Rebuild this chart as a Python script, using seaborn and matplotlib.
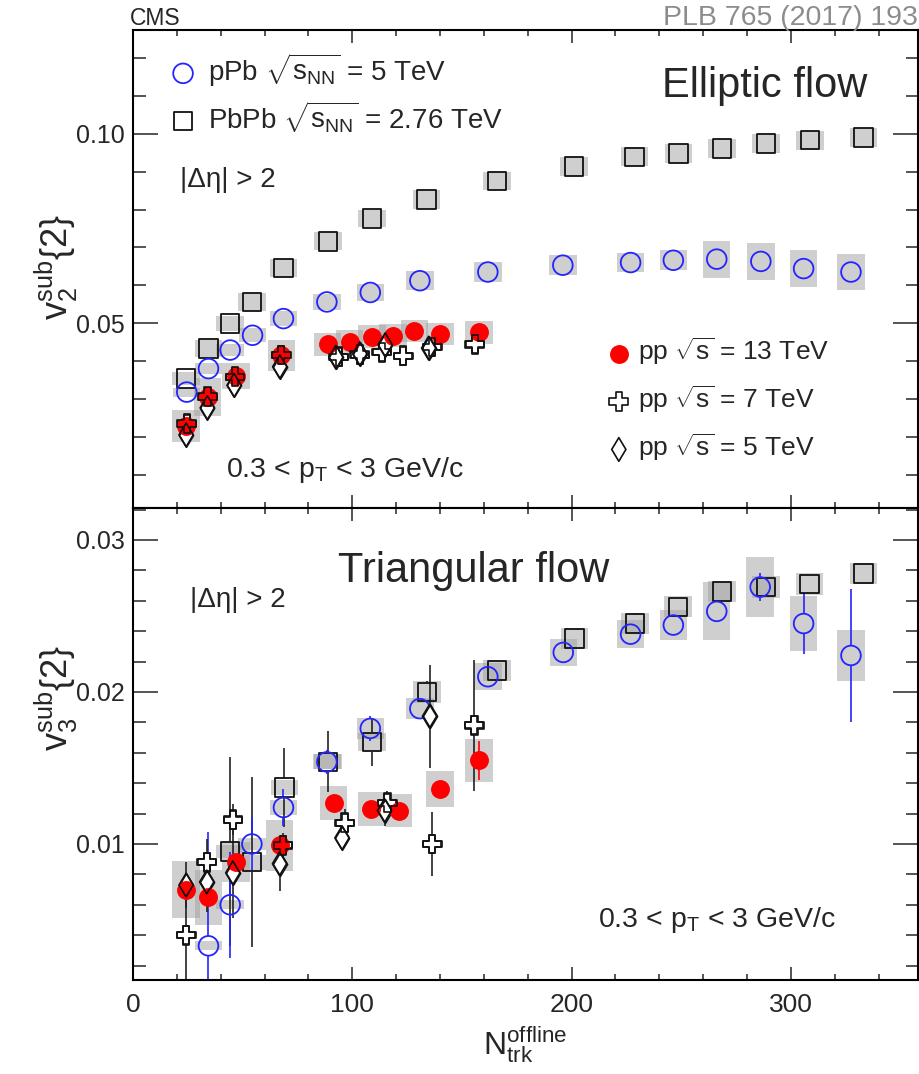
import numpy as np
import matplotlib
matplotlib.use("Agg")
import matplotlib.pyplot as plt
import seaborn as sns
from matplotlib.ticker import MultipleLocator, FixedLocator, FormatStrFormatter

# ---------------- elliptic flow, v2sub{2} ----------------
ppb_x_v2 = [24.5, 34.4, 44.3, 54.5, 68.6, 88.4, 108.2, 130.8, 161.8, 196.0, 226.9, 246.4, 266.2, 286.3, 305.8, 327.4]
ppb_v2 = [0.0318, 0.0380, 0.0429, 0.0468, 0.0512, 0.0556, 0.0581, 0.0612, 0.0635, 0.0653, 0.0660, 0.0666, 0.0669, 0.0663, 0.0644, 0.0635]
ppb_v2_sys = [0.0012, 0.0014, 0.0016, 0.0018, 0.0020, 0.0022, 0.0023, 0.0025, 0.0026, 0.0026, 0.0026, 0.0026, 0.0049, 0.0049, 0.0048, 0.0048]

pbpb_x_v2 = [24.2, 34.4, 44.3, 54.2, 68.6, 88.9, 109.0, 133.8, 166.0, 201.1, 228.8, 248.7, 268.5, 288.6, 308.7, 333.2]
pbpb_v2 = [0.0354, 0.0433, 0.0499, 0.0556, 0.0646, 0.0716, 0.0776, 0.0826, 0.0875, 0.0913, 0.0939, 0.0948, 0.0961, 0.0974, 0.0983, 0.0990]
pbpb_v2_sys = [0.0016, 0.0022, 0.0020, 0.0023, 0.0024, 0.0024, 0.0023, 0.0025, 0.0024, 0.0025, 0.0025, 0.0025, 0.0025, 0.0025, 0.0025, 0.0025]

pp13_x_v2 = [24.2, 34.0, 47.0, 67.6, 88.7, 98.8, 109.0, 118.6, 128.3, 139.9, 157.7]
pp13_v2 = [0.0229, 0.0306, 0.0360, 0.0415, 0.0444, 0.0451, 0.0464, 0.0467, 0.0479, 0.0471, 0.0476]
pp13_v2_sys = [0.0042, 0.0050, 0.0035, 0.0041, 0.0030, 0.0030, 0.0030, 0.0030, 0.0030, 0.0030, 0.0030]

pp7_x_v2 = [24.5, 34.0, 46.5, 67.6, 93.8, 103.4, 113.5, 123.2, 136.4, 155.8]
pp7_v2 = [0.0235, 0.0306, 0.0358, 0.0416, 0.0411, 0.0417, 0.0423, 0.0414, 0.0437, 0.0444]

pp5_x_v2 = [24.2, 33.9, 46.1, 66.9, 92.5, 103.4, 115.0, 134.8]
pp5_v2 = [0.0205, 0.0277, 0.0336, 0.0385, 0.0410, 0.0419, 0.0443, 0.0434]

# ---------------- triangular flow, v3sub{2} ----------------
ppb_x_v3 = [34.4, 44.3, 54.2, 68.6, 88.4, 108.2, 130.8, 161.8, 196.2, 226.9, 246.4, 266.2, 286.0, 305.8, 327.4]
ppb_v3 = [0.0033, 0.0060, 0.0100, 0.0124, 0.0154, 0.0176, 0.0189, 0.0210, 0.0226, 0.0238, 0.0244, 0.0253, 0.0269, 0.0245, 0.0224]
ppb_v3_stat = [0.0075, 0.0035, 0.0018, 0.0012, 0.0008, 0.0008, 0.0003, 0.0003, 0.0002, 0.0002, 0.0002, 0.0003, 0.0009, 0.0020, 0.0044]
ppb_v3_sys = [0.0003, 0.0003, 0.0004, 0.0005, 0.0005, 0.0007, 0.0007, 0.0009, 0.0009, 0.0009, 0.0010, 0.0019, 0.0020, 0.0018, 0.0017]

pbpb_x_v3 = [44.3, 54.2, 69.0, 89.0, 109.0, 134.0, 166.0, 201.4, 228.9, 248.5, 268.5, 288.6, 308.4, 333.2]
pbpb_v3 = [0.0095, 0.0088, 0.0137, 0.0154, 0.0167, 0.0200, 0.0214, 0.0235, 0.0245, 0.0256, 0.0266, 0.0269, 0.0271, 0.0278]
pbpb_v3_stat = [0.0062, 0.0056, 0.0026, 0.0020, 0.0016, 0.0007, 0.0005, 0.0002, 0.0007, 0.0002, 0.0002, 0.0002, 0.0002, 0.0002]
pbpb_v3_sys = [0.0004, 0.0005, 0.0005, 0.0005, 0.0006, 0.0007, 0.0007, 0.0007, 0.0007, 0.0007, 0.0007, 0.0007, 0.0007, 0.0007]

pp13_x_v3 = [24.2, 34.4, 47.0, 66.8, 91.5, 108.7, 121.1, 139.9, 157.7]
pp13_v3 = [0.0070, 0.0065, 0.0088, 0.0099, 0.0127, 0.0123, 0.0122, 0.0136, 0.0155]
pp13_v3_stat = [0.0003, 0.0003, 0.0003, 0.0003, 0.0003, 0.0003, 0.0003, 0.0004, 0.0013]
pp13_v3_sys = [0.0019, 0.0018, 0.0013, 0.0017, 0.0011, 0.0011, 0.0011, 0.0012, 0.0014]

pp7_x_v3 = [24.2, 33.6, 45.6, 68.4, 96.5, 116.0, 136.4, 155.7]
pp7_v3 = [0.0040, 0.0088, 0.0116, 0.0099, 0.0114, 0.0127, 0.0100, 0.0178]
pp7_v3_stat = [0.0040, 0.0015, 0.0010, 0.0008, 0.0009, 0.0008, 0.0021, 0.0043]

pp5_x_v3 = [24.2, 33.6, 45.5, 66.8, 95.3, 114.7, 135.2]
pp5_v3 = [0.0073, 0.0075, 0.0081, 0.0087, 0.0104, 0.0122, 0.0184]
pp5_v3_stat = [0.0015, 0.0020, 0.0030, 0.0018, 0.0008, 0.0010, 0.0034]

# ---------------- style ----------------
sns.set_style("ticks")
plt.rcParams['font.family'] = ['Liberation Sans', 'DejaVu Sans']
plt.rcParams['mathtext.fontset'] = 'custom'
plt.rcParams['mathtext.rm'] = 'Liberation Sans'
plt.rcParams['mathtext.it'] = 'Liberation Sans'
plt.rcParams['mathtext.sf'] = 'Liberation Sans'
plt.rcParams['mathtext.bf'] = 'Liberation Sans:bold'
plt.rcParams['axes.linewidth'] = 1.5
plt.rcParams['axes.edgecolor'] = 'black'

BLUE = '#2424ff'
RED = '#ff0000'
BOX = '#a0a0a0'
EDGE = '#111111'
BAR = '#222222'

FIG_W, FIG_H, DPI = 9.2, 10.74, 100
fig = plt.figure(figsize=(FIG_W, FIG_H), dpi=DPI)
ax1 = fig.add_axes([0.1446, 0.527, 0.8533, 0.4451])
ax2 = fig.add_axes([0.1446, 0.0875, 0.8533, 0.4395])

ax1.set_xlim(0, 358)
ax2.set_xlim(0, 358)
ax1.set_ylim(0.0012, 0.1274)
ax2.set_ylim(0.00105, 0.0321)


def px_to_data(ax, px):
    """Vertical pixel distance expressed in data units of ax."""
    h_px = ax.get_position().height * FIG_H * DPI
    lo, hi = ax.get_ylim()
    return px * (hi - lo) / h_px


def sys_boxes(ax, x, y, sys, width=12.5):
    y = np.asarray(y)
    sys = np.asarray(sys)
    ax.bar(x, 2 * sys, width=width, bottom=y - sys, color=BOX, alpha=0.5,
           linewidth=0, zorder=1)


def stat_bars(ax, x, y, err, color, gap_px):
    # vertical bars that stop at the marker outline
    x = np.asarray(x)
    y = np.asarray(y)
    err = np.asarray(err)
    gap = px_to_data(ax, gap_px)
    m = err > gap
    ax.vlines(x[m], y[m] + gap, y[m] + err[m], colors=color, linewidth=1.2, zorder=2)
    ax.vlines(x[m], y[m] - err[m], y[m] - gap, colors=color, linewidth=1.2, zorder=2)


def markers(ax, x, y, marker, s, fc, ec, lw, z):
    sns.scatterplot(x=x, y=y, marker=marker, s=s, color=ec, facecolor=fc,
                    edgecolor=ec, linewidth=lw, zorder=z, ax=ax)
    return ax.collections[-1]


S_CIRC, S_SQ, S_RED, S_CROSS, S_DIA = 200, 178, 185, 185, 145


def draw_panel(ax, d):
    # systematic boxes
    sys_boxes(ax, d['pbpb_x'], d['pbpb_y'], d['pbpb_sys'])
    sys_boxes(ax, d['ppb_x'], d['ppb_y'], d['ppb_sys'])
    sys_boxes(ax, d['pp13_x'], d['pp13_y'], d['pp13_sys'])
    # statistical bars
    if d.get('pbpb_stat') is not None:
        stat_bars(ax, d['pbpb_x'], d['pbpb_y'], d['pbpb_stat'], BAR, 10)
        stat_bars(ax, d['ppb_x'], d['ppb_y'], d['ppb_stat'], BLUE, 10)
        stat_bars(ax, d['pp7_x'], d['pp7_y'], d['pp7_stat'], BAR, 9.5)
        stat_bars(ax, d['pp5_x'], d['pp5_y'], d['pp5_stat'], BAR, 11)
        stat_bars(ax, d['pp13_x'], d['pp13_y'], d['pp13_stat'], RED, 0)
    h = {}
    h['pbpb'] = markers(ax, d['pbpb_x'], d['pbpb_y'], 's', S_SQ, 'none', EDGE, 1.3, 3)
    h['ppb'] = markers(ax, d['ppb_x'], d['ppb_y'], 'o', S_CIRC, 'none', BLUE, 1.3, 4)
    markers(ax, d['pp7_x'], d['pp7_y'], 'P', S_CROSS, 'white', EDGE, 1.2, 5)
    markers(ax, d['pp5_x'], d['pp5_y'], 'd', S_DIA, 'white', EDGE, 1.2, 5)
    h['pp13'] = markers(ax, d['pp13_x'], d['pp13_y'], 'o', S_RED, RED, RED, 0, 6)
    h['pp7'] = markers(ax, d['pp7_x'], d['pp7_y'], 'P', S_CROSS, 'none', EDGE, 1.2, 7)
    h['pp5'] = markers(ax, d['pp5_x'], d['pp5_y'], 'd', S_DIA, 'none', EDGE, 1.2, 7)
    return h


top = dict(ppb_x=ppb_x_v2, ppb_y=ppb_v2, ppb_sys=ppb_v2_sys,
           pbpb_x=pbpb_x_v2, pbpb_y=pbpb_v2, pbpb_sys=pbpb_v2_sys,
           pp13_x=pp13_x_v2, pp13_y=pp13_v2, pp13_sys=pp13_v2_sys,
           pp7_x=pp7_x_v2, pp7_y=pp7_v2, pp5_x=pp5_x_v2, pp5_y=pp5_v2)
bot = dict(ppb_x=ppb_x_v3, ppb_y=ppb_v3, ppb_sys=ppb_v3_sys, ppb_stat=ppb_v3_stat,
           pbpb_x=pbpb_x_v3, pbpb_y=pbpb_v3, pbpb_sys=pbpb_v3_sys, pbpb_stat=pbpb_v3_stat,
           pp13_x=pp13_x_v3, pp13_y=pp13_v3, pp13_sys=pp13_v3_sys, pp13_stat=pp13_v3_stat,
           pp7_x=pp7_x_v3, pp7_y=pp7_v3, pp7_stat=pp7_v3_stat,
           pp5_x=pp5_x_v3, pp5_y=pp5_v3, pp5_stat=pp5_v3_stat)

h = draw_panel(ax1, top)
draw_panel(ax2, bot)

# ---------------- axes ----------------
for ax in (ax1, ax2):
    ax.set_xlim(0, 358)
    ax.xaxis.set_major_locator(MultipleLocator(100))
    ax.xaxis.set_minor_locator(MultipleLocator(20))
    ax.tick_params(axis='y', which='major', direction='in', length=18, width=1.1,
                   left=True, right=True, labelsize=18, pad=6)
    ax.tick_params(axis='y', which='minor', direction='in', length=9, width=1.1,
                   left=True, right=True)
    ax.tick_params(axis='x', which='major', direction='in', length=9.5, width=1.1,
                   top=True, bottom=True, labelsize=19, pad=9)
    ax.tick_params(axis='x', which='minor', direction='in', length=4.5, width=1.1,
                   top=True, bottom=True)
    ax.set_xlabel('')
    ax.set_ylabel('')
    ax.yaxis.set_major_formatter(FormatStrFormatter('%.2f'))

ax1.set_ylim(0.0012, 0.1274)
ax1.yaxis.set_major_locator(FixedLocator([0.05, 0.10]))
ax1.yaxis.set_minor_locator(MultipleLocator(0.01))
ax1.tick_params(axis='x', labelbottom=False)

ax2.set_ylim(0.00105, 0.0321)
ax2.yaxis.set_major_locator(MultipleLocator(0.01))
ax2.yaxis.set_minor_locator(MultipleLocator(0.002))

# ---------------- legends ----------------
leg1 = ax1.legend(handles=[h['ppb'], h['pbpb']],
                  labels=[r'pPb $\sqrt{s_{\mathrm{NN}}}$ = 5 TeV',
                          r'PbPb $\sqrt{s_{\mathrm{NN}}}$ = 2.76 TeV'],
                  loc='upper left', bbox_to_anchor=(0.046, 0.955), frameon=False,
                  fontsize=20, scatterpoints=1, handlelength=1.0,
                  handletextpad=0.4, labelspacing=0.38, borderpad=0, borderaxespad=0)
ax1.add_artist(leg1)
ax1.legend(handles=[h['pp13'], h['pp7'], h['pp5']],
           labels=[r'pp $\sqrt{s}$ = 13 TeV', r'pp $\sqrt{s}$ = 7 TeV',
                   r'pp $\sqrt{s}$ = 5 TeV'],
           loc='upper left', bbox_to_anchor=(0.602, 0.36), frameon=False,
           fontsize=19, scatterpoints=1, handlelength=1.0,
           handletextpad=0.22, labelspacing=0.62, borderpad=0, borderaxespad=0)

# ---------------- text ----------------
ax1.text(0.674, 0.860, 'Elliptic flow', transform=ax1.transAxes, fontsize=30,
         ha='left', va='baseline')
ax1.text(0.060, 0.672, '|Δη| > 2', transform=ax1.transAxes, fontsize=20,
         ha='left', va='baseline')
ax1.text(0.119, 0.0655, r'0.3 < p$_{\mathrm{T}}$ < 3 GeV/c', transform=ax1.transAxes,
         fontsize=20.5, ha='left', va='baseline')

ax2.text(0.2615, 0.844, 'Triangular flow', transform=ax2.transAxes, fontsize=30,
         ha='left', va='baseline')
ax2.text(0.0726, 0.791, '|Δη| > 2', transform=ax2.transAxes, fontsize=20,
         ha='left', va='baseline')
ax2.text(0.592, 0.112, r'0.3 < p$_{\mathrm{T}}$ < 3 GeV/c', transform=ax2.transAxes,
         fontsize=20.5, ha='left', va='baseline')

fig.text(56 / 920, 1 - 267 / 1074, r'$\mathrm{v}_{2}^{\mathrm{sub}}\{2\}$',
         rotation=90, ha='center', va='center', fontsize=26)
fig.text(56 / 920, 1 - 698 / 1074, r'$\mathrm{v}_{3}^{\mathrm{sub}}\{2\}$',
         rotation=90, ha='center', va='center', fontsize=26)
fig.text(525 / 920, 1 - 1045 / 1074, r'$\mathrm{N}_{\mathrm{trk}}^{\mathrm{offline}}$',
         ha='center', va='center', fontsize=23)

fig.text(130 / 920, 1 - 25 / 1074, 'CMS', ha='left', va='baseline', fontsize=16.5)
fig.text(918 / 920, 1 - 25 / 1074, 'PLB 765 (2017) 193', ha='right', va='baseline',
         fontsize=20.5, color='#8c8c8c')

fig.savefig('out.png', dpi=DPI)
